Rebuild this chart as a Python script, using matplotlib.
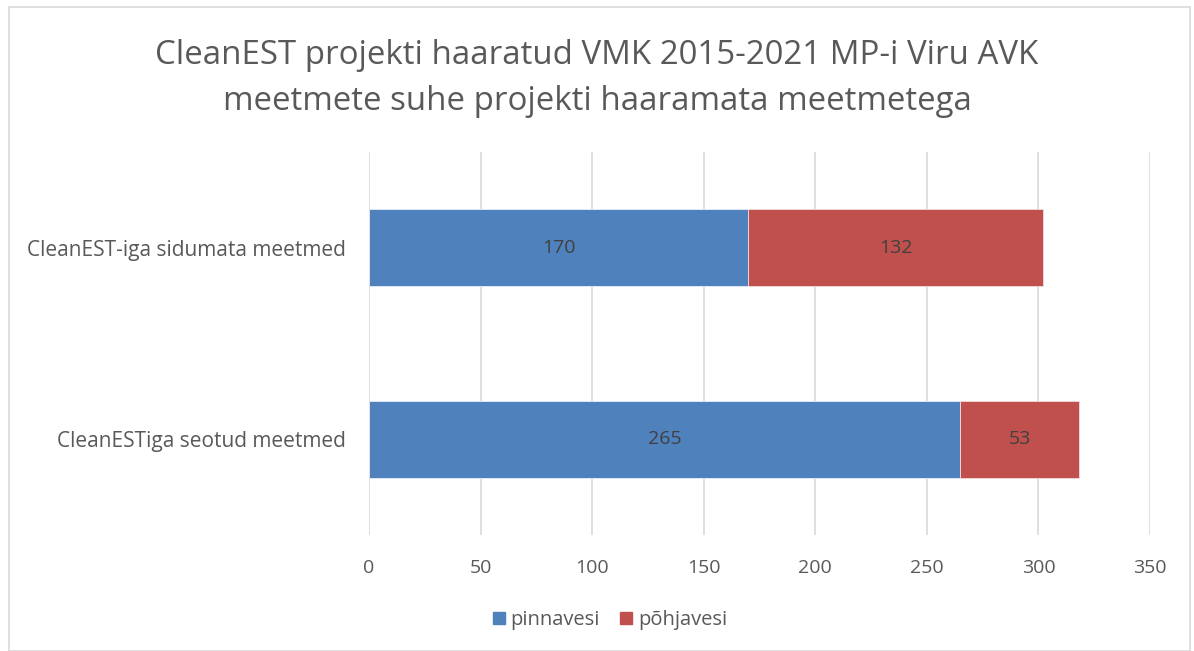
import matplotlib
matplotlib.use("Agg")
import matplotlib.pyplot as plt
from matplotlib.patches import Rectangle, Patch

categories = ["CleanESTiga seotud meetmed", "CleanEST-iga sidumata meetmed"]
pinnavesi = [265, 170]
pohjavesi = [53, 132]
series_names = ["pinnavesi", "põhjavesi"]
xticks = [0, 50, 100, 150, 200, 250, 300, 350]

blue = "#4F81BD"
red = "#C0504D"
txt = "#595959"
grid = "#D9D9D9"
fam = ["Open Sans", "DejaVu Sans"]

fig = plt.figure(figsize=(11.94, 6.51), dpi=100)
fig.patches.append(Rectangle((9/1194, 0), (1190-9)/1194, (651-7)/651, transform=fig.transFigure,
                             fill=False, edgecolor=grid, linewidth=1.2))
ax = fig.add_axes([369/1194, 1-535/651, (1150-369)/1194, (535-152)/651])

y = [0.5, 1.5]
b1 = ax.barh(y, pinnavesi, height=0.4, color=blue, edgecolor="#E8EEF6", linewidth=0.6,
             label=series_names[0], zorder=3)
b2 = ax.barh(y, pohjavesi, left=pinnavesi, height=0.4, color=red, edgecolor="#F2DCDB", linewidth=0.6,
             label=series_names[1], zorder=3)
for bars in (b1, b2):
    ax.bar_label(bars, label_type="center", color="#404040", fontsize=14, family=fam)

ax.set_ylim(0, 2)
ax.set_xlim(0, 350)
ax.set_xticks(xticks)
ax.set_xticklabels([str(t) for t in xticks], fontsize=14, color=txt, family=fam)
ax.set_yticks(y)
ax.set_yticklabels(categories, fontsize=15, color=txt, family=fam)
ax.tick_params(axis="both", length=0)
ax.tick_params(axis="y", pad=17)
ax.tick_params(axis="x", pad=17)
ax.grid(axis="x", color=grid, linewidth=1.2, zorder=0)
for s in ax.spines.values():
    s.set_visible(False)

fig.text(0.5, 1-56/651, "CleanEST projekti haaratud VMK 2015-2021 MP-i Viru AVK",
         ha="center", va="center", fontsize=23.8, color=txt, family=fam)
fig.text(0.5, 1-101/651, "meetmete suhe projekti haaramata meetmetega",
         ha="center", va="center", fontsize=23.8, color=txt, family=fam)

handles = [Patch(color=blue), Patch(color=red)]
fig.legend(handles, series_names, loc="center", bbox_to_anchor=(610/1194, 1-620/651), ncol=2,
           frameon=False, prop={"family": fam, "size": 14.5}, labelcolor=txt,
           handlelength=0.6, handleheight=0.6, handletextpad=0.3, columnspacing=1.0)

fig.savefig("out.png", dpi=100)
